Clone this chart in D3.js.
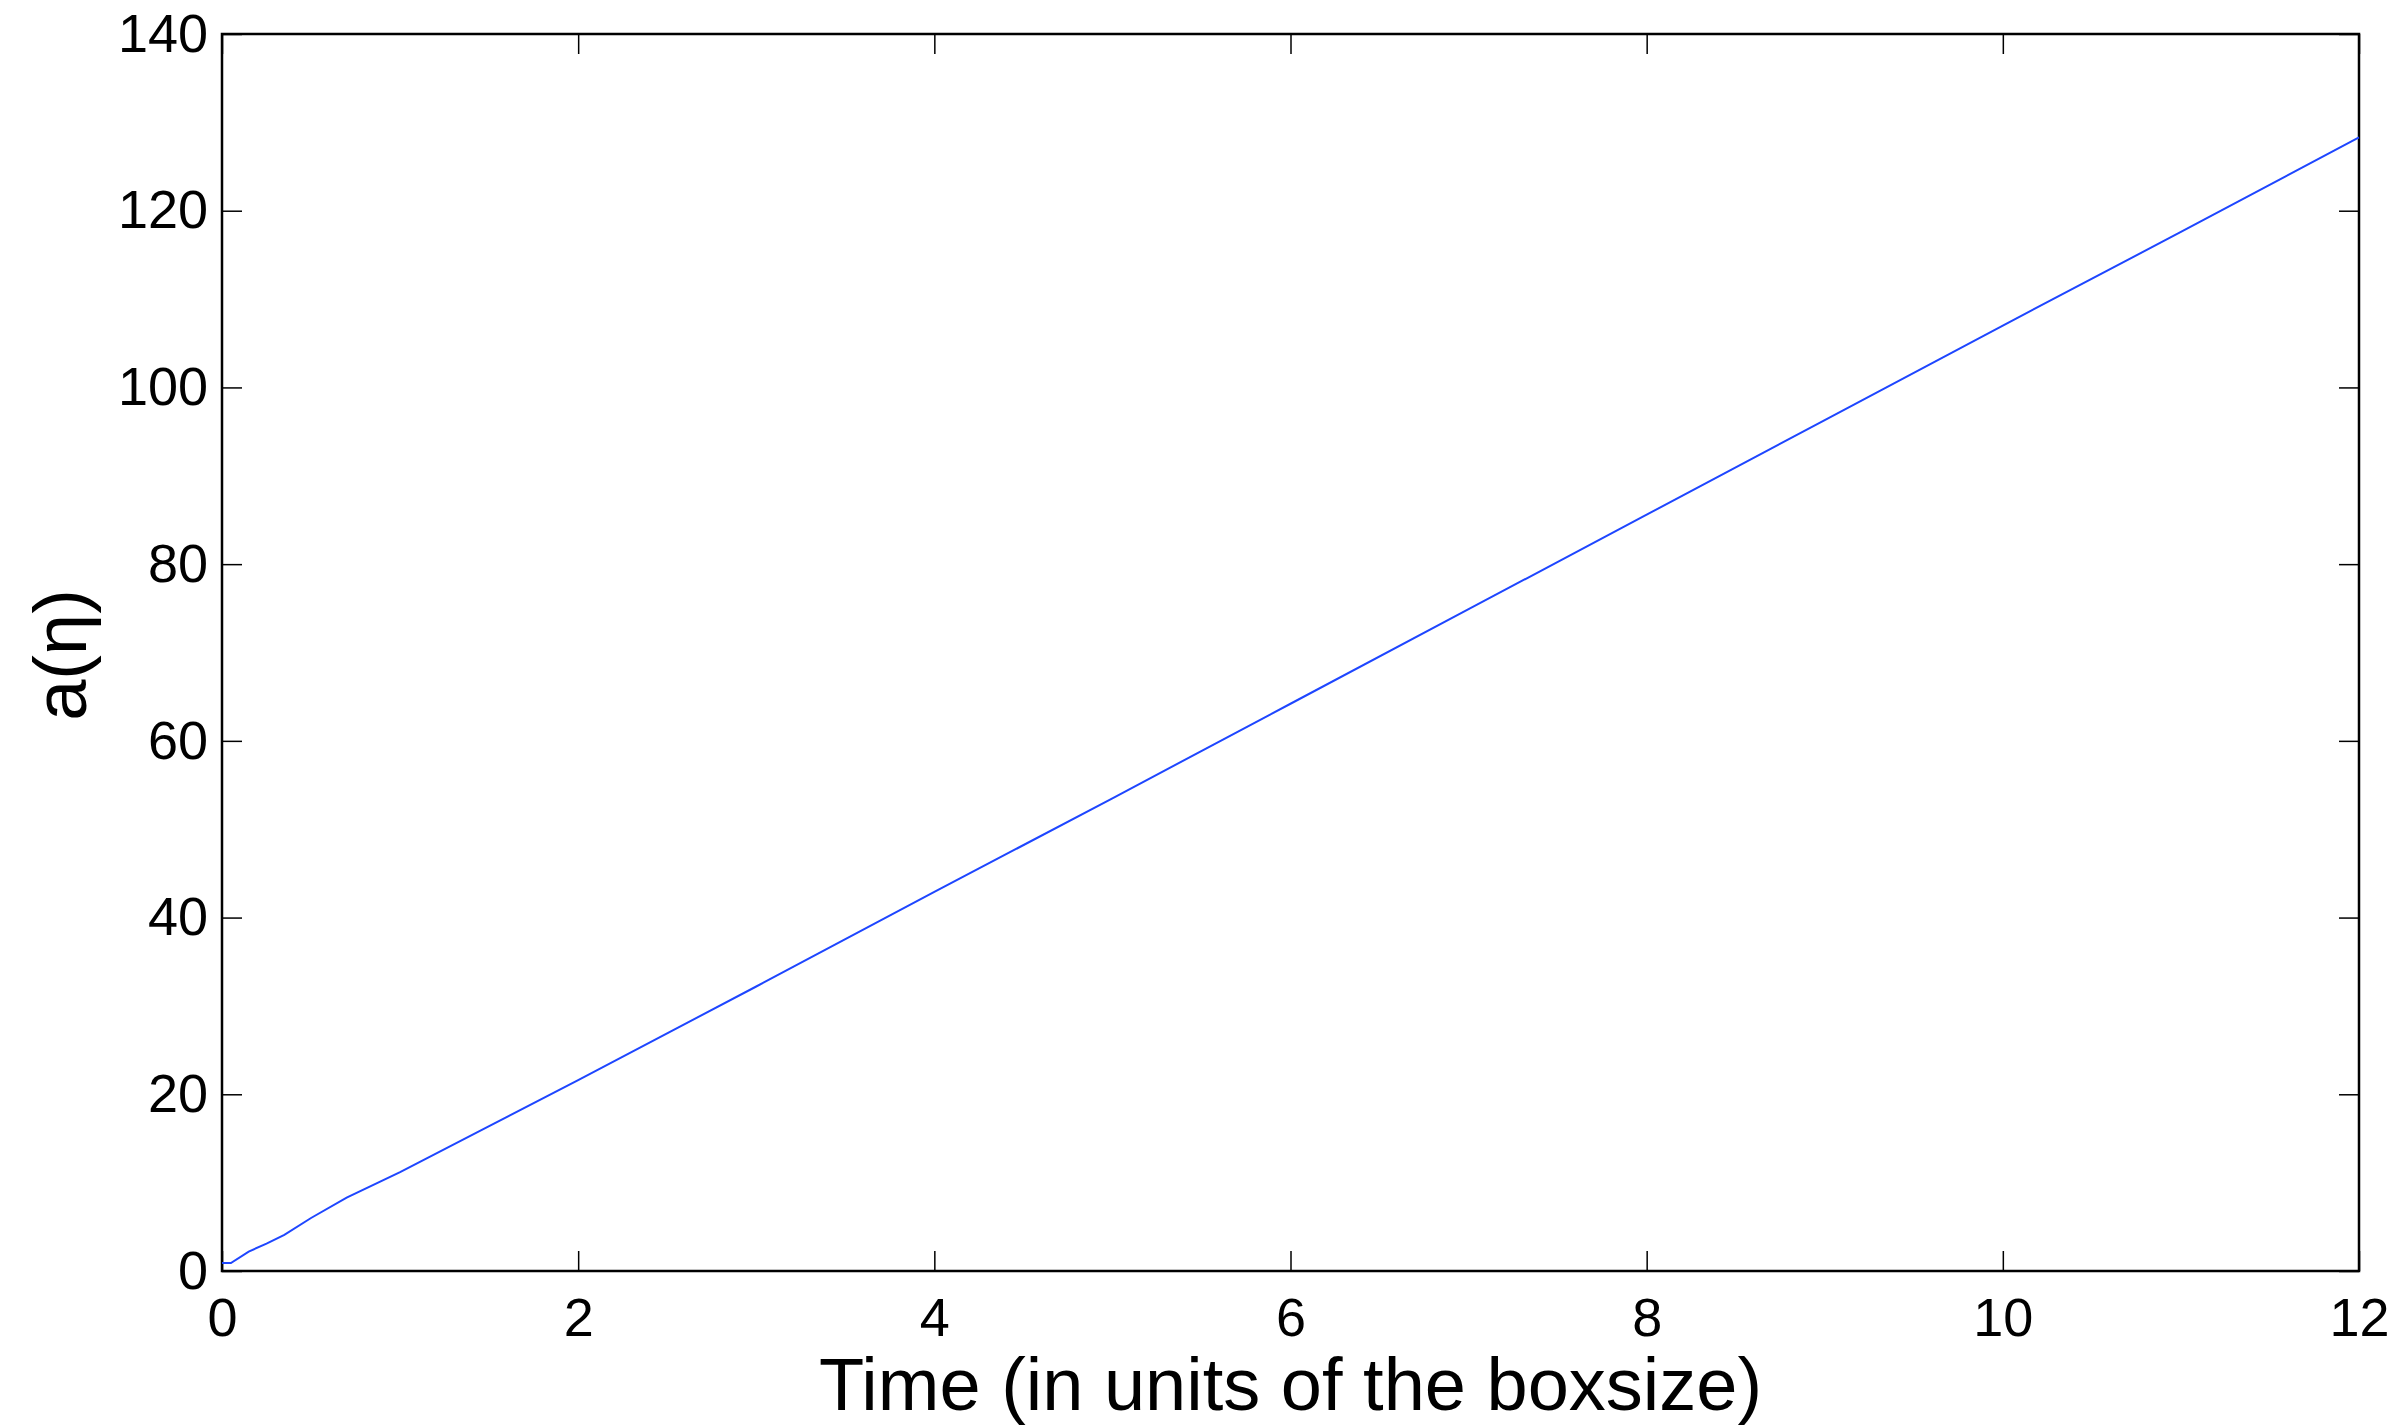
<html><head>
<meta charset="utf-8">
<title>a(eta) vs time</title>
<script type="text/javascript" src="https://d3js.org/d3.v7.min.js"></script>
<style>
  body { margin: 0; background: #fff; }
  .axis text { font-family: "Liberation Sans", Arial, sans-serif; font-size: 54px; fill: #000; }
  .axis line { stroke: #000; stroke-width: 1.5; }
  .axis path { display: none; }
</style>
</head>
<body>
<div id="chart"></div>
<script>

// data
var timeVals = [0, 0.05, 0.15, 0.25, 0.35, 0.5, 0.7, 1.0, 1.5, 2, 3, 4, 5, 6, 7, 8, 9, 10, 11, 12];
var aVals    = [0.9, 0.9, 2.2, 3.1, 4.1, 6.0, 8.3, 11.2, 16.4, 21.6, 32.2, 42.9, 53.5, 64.2, 74.9, 85.6, 96.3, 107.0, 117.6, 128.3];
var xTicks = [0, 2, 4, 6, 8, 10, 12];
var yTicks = [0, 20, 40, 60, 80, 100, 120, 140];

// dimensions
var W = 2402, H = 1426;
var margin = {top: 34, right: 43, bottom: 155, left: 222};
var width = W - margin.left - margin.right;
var height = H - margin.top - margin.bottom;

var svg = d3.select("#chart")
  .append("svg")
    .attr("width", W)
    .attr("height", H)
  .append("g")
    .attr("transform", "translate(" + margin.left + "," + margin.top + ")");

var xScale = d3.scaleLinear().domain([0, 12]).range([0, width]);
var yScale = d3.scaleLinear().domain([0, 140]).range([height, 0]);

// bottom axis (ticks point inward)
svg.append("g")
    .attr("class", "axis")
    .attr("transform", "translate(0," + height + ")")
    .call(d3.axisBottom(xScale).tickValues(xTicks).tickSize(-20).tickPadding(27).tickFormat(d3.format("d")));

// left axis
svg.append("g")
    .attr("class", "axis")
    .call(d3.axisLeft(yScale).tickValues(yTicks).tickSize(-20).tickPadding(14).tickFormat(d3.format("d")));

// top and right ticks, no labels
svg.append("g")
    .attr("class", "axis")
    .call(d3.axisTop(xScale).tickValues(xTicks).tickSize(-20).tickFormat(""));

svg.append("g")
    .attr("class", "axis")
    .attr("transform", "translate(" + width + ",0)")
    .call(d3.axisRight(yScale).tickValues(yTicks).tickSize(-20).tickFormat(""));

// frame
svg.append("rect")
    .attr("x", 0)
    .attr("y", 0)
    .attr("width", width)
    .attr("height", height)
    .attr("fill", "none")
    .attr("stroke", "#000")
    .attr("stroke-width", 2.5);

// the line
var pts = timeVals.map(function(t, i) { return {t: t, a: aVals[i]}; });

svg.append("path")
    .datum(pts)
    .attr("fill", "none")
    .attr("stroke", "#1e46ff")
    .attr("stroke-width", 2)
    .attr("d", d3.line()
      .x(function(d) { return xScale(d.t) })
      .y(function(d) { return yScale(d.a) })
    );

// axis titles
svg.append("text")
    .attr("x", width / 2)
    .attr("y", height + 139)
    .attr("text-anchor", "middle")
    .style("font-family", "'Liberation Sans', Arial, sans-serif")
    .style("font-size", "74px")
    .text("Time (in units of the boxsize)");

svg.append("text")
    .attr("transform", "translate(" + (86 - margin.left) + "," + (655 - margin.top) + ") rotate(-90)")
    .attr("text-anchor", "middle")
    .style("font-family", "'Liberation Sans', Arial, sans-serif")
    .style("font-size", "74px")
    .text("a(η)");

</script>
</body></html>
